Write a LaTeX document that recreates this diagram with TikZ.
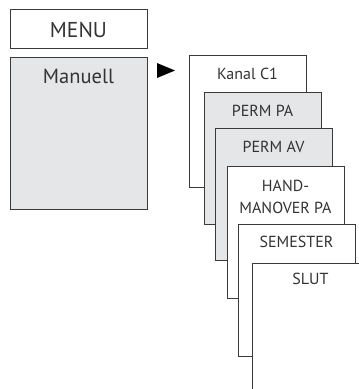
\documentclass[tikz,border=0pt]{standalone}
\usepackage{fontspec}
\setmainfont{PT Sans}
\definecolor{stroke}{HTML}{3A3A3A}
\definecolor{boxgray}{HTML}{E5E6E8}
\definecolor{txt}{HTML}{333333}
\begin{document}
\begin{tikzpicture}[x=1pt,y=-1pt,
  box/.style={draw=stroke, line width=0.9pt, fill=white, anchor=north west, inner sep=0pt, outer sep=0pt},
  graybox/.style={box, fill=boxgray},
  card/.style={minimum width=117pt, minimum height=132pt},
  lbl/.style={anchor=base, text=txt, inner sep=0pt, font=\fontsize{16}{22}\selectfont, align=center},
  biglbl/.style={lbl, font=\fontsize{21.5}{24}\selectfont}]
\useasboundingbox (0,0) rectangle (359,389);
\clip (0,0) rectangle (359,389);
% left column
\node[box, minimum width=137pt, minimum height=39pt] (menu) at (10,9) {};
\node[biglbl] (menut) at ([yshift=-28pt]menu.north) {MENU};
\node[graybox, minimum width=137pt, minimum height=152pt] (man) at (10,57) {};
\node[biglbl, font=\fontsize{20.5}{24}\selectfont] (mant) at ([yshift=-26pt]man.north) {Manuell};
% arrow marker
\fill[black] (157,63) -- (175,70.5) -- (157,78) -- cycle;
% stack of cards
\node[box, card] (k1) at (189,55) {};
\node[lbl] (k1t) at ([yshift=-24pt]k1.north) {Kanal C1};
\node[graybox, card] (k2) at (204,92) {};
\node[lbl] (k2t) at ([yshift=-24pt]k2.north) {PERM PA};
\node[graybox, card] (k3) at (215,128) {};
\node[lbl] (k3t) at ([yshift=-24pt]k3.north) {PERM AV};
\node[box, card] (k4) at (227,166) {};
\node[lbl] (k4t) at ([yshift=-47pt]k4.north) {HAND-\\MANOVER PA};
\node[box, card] (k5) at (238,224) {};
\node[lbl] (k5t) at ([yshift=-23pt]k5.north) {SEMESTER};
\node[box, card] (k6) at (252,263) {};
\node[lbl] (k6t) at ([yshift=-21pt]k6.north) {SLUT};
\end{tikzpicture}
\end{document}
